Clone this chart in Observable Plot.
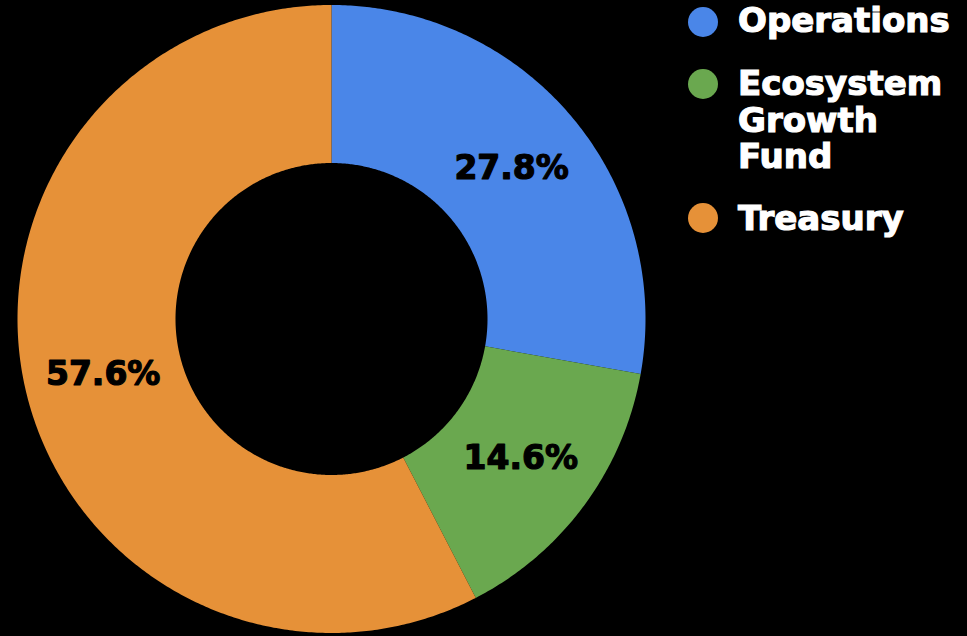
<!DOCTYPE html>
<html><head><meta charset="utf-8">
<script src="https://cdn.jsdelivr.net/npm/d3@7"></script>
<script src="https://cdn.jsdelivr.net/npm/@observablehq/plot@0.6"></script>
<style>
body{margin:0;background:#000;}
#wrap{position:relative;width:967px;height:636px;overflow:hidden;background:#000;}
#wrap svg{position:absolute;left:0;top:0;}
.leg{position:absolute;left:738px;font-family:"DejaVu Sans";font-weight:bold;font-size:34px;line-height:36.5px;color:#fff;white-space:nowrap;-webkit-text-stroke:1.2px #fff;}
.sw{position:absolute;left:688px;width:30px;height:30px;border-radius:50%;}
</style></head><body><div id="wrap"></div>
<script>
const categories = ["Operations", "Ecosystem Growth Fund", "Treasury"];
const legendLines = [["Operations"], ["Ecosystem", "Growth", "Fund"], ["Treasury"]];
const shares = [27.8, 14.6, 57.6];
const labels = ["27.8%", "14.6%", "57.6%"];
const colors = ["#4a86e8", "#6aa84f", "#e69138"];

const inner = 156 / 314;
const total = d3.sum(shares);
let acc = 0;
const slices = [], labelData = [];
shares.forEach((v, i) => {
  const a0 = acc / total * 2 * Math.PI;
  acc += v;
  const a1 = acc / total * 2 * Math.PI;
  const n = Math.max(2, Math.ceil((a1 - a0) / (Math.PI / 360)));
  const ring = [];
  for (let k = 0; k <= n; k++) { const a = a0 + (a1 - a0) * k / n; ring.push([Math.sin(a), -Math.cos(a)]); }
  for (let k = n; k >= 0; k--) { const a = a0 + (a1 - a0) * k / n; ring.push([inner * Math.sin(a), -inner * Math.cos(a)]); }
  ring.push(ring[0]);
  slices.push({type: "Feature", properties: {name: categories[i]}, geometry: {type: "Polygon", coordinates: [ring]}});
  const am = (a0 + a1) / 2, rm = (1 + inner) / 2;
  labelData.push({x: rm * Math.sin(am), y: -rm * Math.cos(am), label: labels[i]});
});

const chart = Plot.plot({
  width: 967, height: 636,
  marginLeft: 17, marginRight: 322, marginTop: 4.5, marginBottom: 3.5,
  projection: {type: "identity", domain: {type: "MultiPoint", coordinates: [[-1, -1], [1, 1]]}},
  color: {domain: categories, range: colors},
  style: {background: "#000"},
  marks: [
    Plot.geo(slices, {fill: d => d.properties.name}),
    Plot.text(labelData, {x: "x", y: "y", text: "label", fill: "#000", stroke: "#000", strokeWidth: 1.2, fontSize: 33, fontWeight: "bold", fontFamily: "DejaVu Sans"})
  ]
});
const wrap = document.getElementById("wrap");
wrap.appendChild(chart);

const swTops = [7, 69, 203];
const textTops = [2, 65, 200];
categories.forEach((c, i) => {
  const sw = document.createElement("div");
  sw.className = "sw"; sw.style.top = swTops[i] + "px"; sw.style.background = colors[i];
  wrap.appendChild(sw);
  const t = document.createElement("div");
  t.className = "leg"; t.style.top = textTops[i] + "px";
  t.innerHTML = legendLines[i].join("<br>");
  wrap.appendChild(t);
});
</script></body></html>
